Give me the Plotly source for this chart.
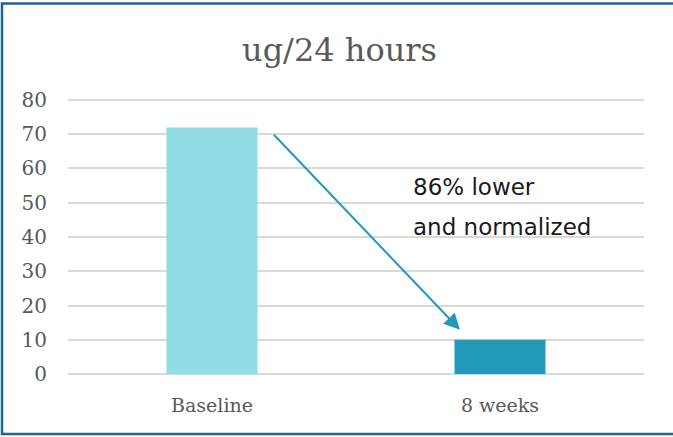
import plotly.graph_objects as go

# Urinary output per 24 hours, baseline vs after 8 weeks
categories = ["Baseline", "8 weeks"]
values = [72, 10]
bar_colors = ["#8FDCE3", "#2299B8"]
title_text = "ug/24 hours"
note_lines = ["86% lower", "and normalized"]
y_ticks = [0, 10, 20, 30, 40, 50, 60, 70, 80]

W, H = 673, 437
L, R, T, B = 68, 29, 98, 63
plot_w = W - L - R
plot_h = H - T - B
y_top = 80.58  # small headroom so the 80 gridline is drawn


def px_to_paper_x(px):
    return (px - L) / plot_w


def px_to_paper_y(py):
    return (H - B - py) / plot_h


fig = go.Figure()
fig.add_trace(go.Bar(
    x=categories,
    y=values,
    marker=dict(color=bar_colors, line=dict(width=0)),
    width=0.316,
    hoverinfo="x+y",
))

serif = "DejaVu Serif"
grey = "#595959"

fig.update_layout(
    width=W,
    height=H,
    margin=dict(l=L, r=R, t=T, b=B),
    paper_bgcolor="white",
    plot_bgcolor="white",
    showlegend=False,
    title=dict(
        text=title_text,
        x=339.5 / W,
        xref="container",
        xanchor="center",
        y=1 - 50 / H,
        yref="container",
        yanchor="middle",
        font=dict(family=serif, size=32, color=grey),
    ),
    xaxis=dict(
        type="category",
        range=[-0.5, 1.5],
        showgrid=False,
        showline=False,
        zeroline=False,
        ticks="",
        ticklabelstandoff=18,
        tickfont=dict(family=serif, size=19, color=grey),
    ),
    yaxis=dict(
        range=[0, y_top],
        tickvals=y_ticks,
        showgrid=True,
        gridcolor="#D9D9D9",
        gridwidth=1.5,
        zeroline=True,
        zerolinecolor="#D9D9D9",
        zerolinewidth=1.5,
        showline=False,
        ticks="",
        ticklabelstandoff=20,
        tickfont=dict(family=serif, size=20, color=grey),
    ),
)

# Arrow from the top of the baseline bar down toward the 8-week bar
arrow_color = "#2299B8"
fig.add_annotation(
    x=0.861, y=values[1] + 2.9,
    ax=0.21, ay=values[0] - 1.7,
    xref="x", yref="y", axref="x", ayref="y",
    text="",
    showarrow=True,
    arrowhead=2,
    arrowsize=1.6,
    arrowwidth=2,
    arrowcolor=arrow_color,
)

# Two-line note, drawn as separate lines for wider spacing
note_font = dict(family="DejaVu Sans", size=23, color="#1A1A1A")
for line, py in zip(note_lines, [187, 227]):
    fig.add_annotation(
        x=px_to_paper_x(411), y=px_to_paper_y(py),
        xref="paper", yref="paper",
        xanchor="left", yanchor="middle",
        text=line, showarrow=False,
        font=note_font,
    )

# Frame around the whole chart
fig.add_shape(
    type="rect",
    xref="paper", yref="paper",
    x0=px_to_paper_x(2), x1=px_to_paper_x(676),
    y0=px_to_paper_y(434), y1=px_to_paper_y(3.5),
    line=dict(color="#1E6587", width=2.5),
    fillcolor="rgba(0,0,0,0)",
    layer="above",
)

fig.write_html("out.html")
